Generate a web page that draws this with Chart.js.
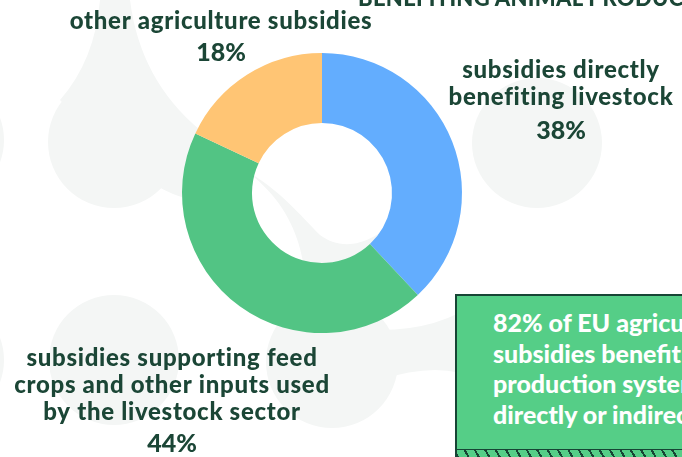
<!DOCTYPE html>
<html>
<head>
<meta charset="utf-8">
<script src="https://cdn.jsdelivr.net/npm/chart.js@4.4.1/dist/chart.umd.min.js"></script>
<style>
  html, body { margin: 0; padding: 0; background: #fff; overflow: hidden; }
  #wrap { position: relative; width: 682px; height: 457px; overflow: hidden; }
  #chart { position: absolute; left: 0; top: 0; }
  .title {
    position: absolute; left: 358px; top: -16px; white-space: nowrap;
    font: 900 22px "Lato", sans-serif; color: #1b4636; letter-spacing: 0.3px;
  }
  .box {
    position: absolute; left: 455px; top: 294px; width: 260px; height: 157px;
    background: #55ce87; border: 2px solid #174535; box-sizing: border-box;
  }
  .box-hatch {
    position: absolute; left: 455px; top: 450px; width: 260px; height: 7px;
    background: repeating-linear-gradient(60deg, #174535 0 2px, #55ce87 2px 9px);
    border-left: 2px solid #174535; box-sizing: border-box;
  }
  .box-text {
    position: absolute; left: 493px; top: 307px; white-space: nowrap;
    font: 900 25px/30.5px "Lato", sans-serif; color: #fff;
  }
</style>
</head>
<body>
<div id="wrap">
  <canvas id="chart" width="682" height="457"></canvas>
  <div class="title">BENEFITING ANIMAL PRODUCTION</div>
  <div class="box"></div>
  <div class="box-hatch"></div>
  <div class="box-text">82% of EU agricultural<br>subsidies benefit animal<br>production systems<br>directly or indirectly</div>
</div>
<script>
// shares of EU agriculture subsidies (%)
const categories = [
  "subsidies directly benefiting livestock",
  "subsidies supporting feed crops and other inputs used by the livestock sector",
  "other agriculture subsidies"
];
const shares = [38, 44, 18];
const sliceColors = ["#63adfe", "#52c484", "#ffc574"];

// how each label is broken into lines, and where it sits
const labelLines = [
  ["subsidies directly", "benefiting livestock"],
  ["subsidies supporting feed", "crops and other inputs used", "by the livestock sector"],
  ["other agriculture subsidies"]
];
const labelSpots = [
  { x: 561, y: 70, gap: 27, pctGap: 34 },
  { x: 172, y: 358, gap: 27, pctGap: 32 },
  { x: 221, y: 21, gap: 27, pctGap: 32 }
];

const textColor = "#1b4636";
const blobColor = "#f4f6f5";

// faint rounded shapes behind everything
const backdrop = {
  id: "backdrop",
  beforeDraw(chart) {
    const c = chart.ctx;
    c.save();
    c.fillStyle = blobColor;
    const circles = [
      [114, 142, 66], [537, 143, 65], [114, 360, 65], [332, 362, 66],
      [-60, 140, 64], [-60, 360, 64], [537, 362, 64]
    ];
    circles.forEach(([x, y, r]) => {
      c.beginPath(); c.arc(x, y, r, 0, Math.PI * 2); c.fill();
    });
    // bridges between the circles
    c.beginPath();
    c.moveTo(60, 100);
    c.quadraticCurveTo(95, 60, 100, 0);
    c.lineTo(130, 0);
    c.quadraticCurveTo(140, 80, 200, 130);
    c.lineTo(200, 200);
    c.quadraticCurveTo(150, 200, 60, 100);
    c.fill();
    c.beginPath();
    c.moveTo(245, 170);
    c.bezierCurveTo(300, 210, 315, 270, 300, 340);
    c.lineTo(362, 340);
    c.bezierCurveTo(352, 280, 372, 240, 405, 210);
    c.bezierCurveTo(370, 250, 340, 250, 320, 235);
    c.bezierCurveTo(300, 215, 280, 190, 245, 170);
    c.fill();
    c.beginPath();
    c.moveTo(380, 330);
    c.quadraticCurveTo(440, 330, 480, 300);
    c.lineTo(480, 380);
    c.quadraticCurveTo(440, 360, 380, 380);
    c.fill();
    c.restore();
  }
};

// outside labels with their percentage
const outerLabels = {
  id: "outerLabels",
  afterDraw(chart) {
    const c = chart.ctx;
    const values = chart.data.datasets[0].data;
    c.save();
    c.fillStyle = textColor;
    c.textAlign = "center";
    c.textBaseline = "middle";
    labelLines.forEach((lines, i) => {
      const s = labelSpots[i];
      c.font = '900 24px "Lato", sans-serif';
      c.letterSpacing = "0.7px";
      lines.forEach((t, k) => c.fillText(t, s.x, s.y + k * s.gap));
      const py = s.y + (lines.length - 1) * s.gap + s.pctGap;
      c.font = '900 25px "Lato", sans-serif';
      c.letterSpacing = "0px";
      c.fillText(values[i] + "%", s.x, py);
    });
    c.restore();
  }
};

new Chart(document.getElementById("chart"), {
  type: "doughnut",
  plugins: [backdrop, outerLabels],
  data: {
    labels: categories,
    datasets: [{
      data: shares,
      backgroundColor: sliceColors,
      borderWidth: 0
    }]
  },
  options: {
    responsive: false,
    animation: false,
    cutout: "50%",
    layout: { padding: { left: 182, right: 220, top: 53, bottom: 124 } },
    plugins: {
      legend: { display: false },
      tooltip: { enabled: false }
    }
  }
});
</script>
</body>
</html>
